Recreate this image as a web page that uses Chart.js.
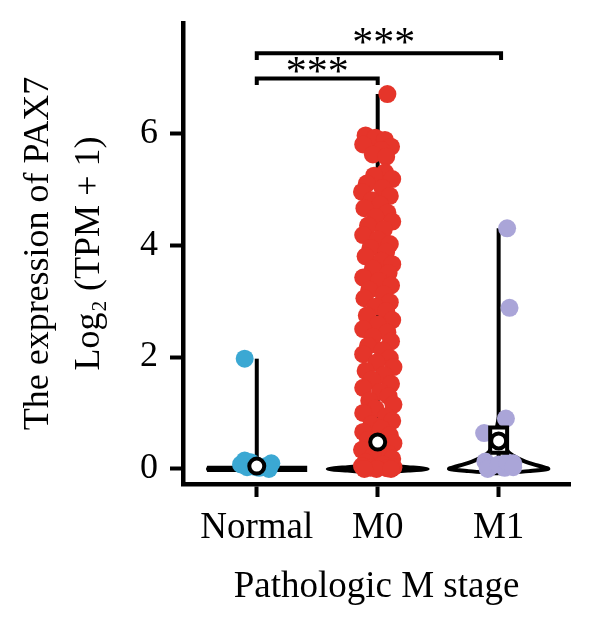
<!DOCTYPE html>
<html>
<head>
<meta charset="utf-8">
<script src="https://cdn.jsdelivr.net/npm/chart.js@4.4.1/dist/chart.umd.min.js"></script>
<style>
  html, body { margin: 0; padding: 0; background: #fff; }
  #wrap { width: 600px; height: 626px; position: relative; }
</style>
</head>
<body>
<div id="wrap"><canvas id="myChart"></canvas></div>
<script>
const categories = ["Normal", "M0", "M1"];
const yTicks = [0, 2, 4, 6];

// jittered points (value, horizontal jitter in category units)
const normalValues = [1.97, 0.15, 0.12, 0.08, 0.03, 0.02, 0.05, 0.10, 0.00, 0.04];
const normalJitter = [-0.10, -0.10, -0.05, -0.13, -0.08, 0.02, 0.08, 0.12, 0.10, -0.02];

const m0Values = [6.70, 5.96, 5.92, 5.88, 5.80, 5.76, 5.70, 5.62, 5.58,
  5.30, 5.24, 5.18, 5.10, 5.02, 4.95, 4.88, 4.80, 4.72, 4.66, 4.58, 4.50, 4.42, 4.35, 4.28,
  4.18, 4.10, 4.02, 3.95, 3.88, 3.80, 3.72, 3.66, 3.58, 3.50, 3.42, 3.36, 3.28, 3.20, 3.12,
  3.05, 2.98, 2.90, 2.82, 2.74, 2.66, 2.58, 2.50, 2.44, 2.36, 2.28, 2.20, 2.12, 2.05, 1.98,
  1.90, 1.82, 1.75, 1.68, 1.60, 1.52, 1.45, 1.38, 1.30, 1.22, 1.15, 1.08, 1.00, 0.94, 0.86,
  0.80, 0.72, 0.66, 0.60, 0.52, 0.46, 0.40, 0.34, 0.28, 0.22, 0.18, 0.12, 0.08, 0.05, 0.03,
  0.02, 0.01, 0.00, 0.00, 0.00];
const m0Jitter = [0.08, -0.10, -0.02, 0.06, -0.12, 0.11, 0.03, -0.04, 0.07,
  0.06, -0.03, 0.12, -0.09, 0.04, -0.13, 0.10, -0.05, 0.02, -0.11, 0.08, -0.02, 0.12, -0.08, 0.05,
  -0.12, 0.00, 0.10, -0.06, 0.07, -0.10, 0.03, 0.12, -0.04, 0.09, -0.12, 0.01, 0.11, -0.07, 0.05,
  -0.11, 0.10, -0.02, 0.07, -0.09, 0.12, 0.00, -0.12, 0.08, -0.04, 0.11, -0.08, 0.04, -0.12, 0.10,
  -0.01, 0.13, -0.10, 0.05, -0.05, 0.11, -0.12, 0.02, 0.09, -0.07, 0.13, -0.02, -0.12, 0.07, 0.12,
  -0.05, 0.03, -0.12, 0.10, -0.08, 0.13, 0.00, -0.13, 0.08, -0.04, 0.12, -0.10, 0.04, -0.13, 0.13,
  -0.06, 0.08, -0.01, 0.11, -0.11];

const m1Values = [4.30, 2.88, 0.90, 0.64, 0.13, 0.10, 0.05, 0.02, 0.00, 0.08, 0.12, 0.03];
const m1Jitter = [0.07, 0.09, 0.06, -0.12, -0.11, 0.12, -0.06, 0.05, -0.09, 0.00, 0.07, 0.12];

const medians = [0.05, 0.48, 0.50];
const maxima = [1.97, 6.70, 4.30];
const m1Box = [0.29, 0.74];

// violin outlines: levels and half widths
const normalViolinY = [-0.025, 0, 0.025];
const normalViolinW = [0.40, 0.405, 0.40];
const m0ViolinY = [-0.07, -0.035, 0, 0.035, 0.07];
const m0ViolinW = [0.03, 0.25, 0.415, 0.25, 0.03];
const m1ViolinY = [-0.08, -0.04, 0, 0.04, 0.08, 0.13, 0.2, 0.3, 0.5, 0.9];
const m1ViolinW = [0.0, 0.25, 0.41, 0.36, 0.29, 0.22, 0.15, 0.08, 0.04, 0.0];

// significance brackets
const bracketFrom = [0, 0];
const bracketTo = [1, 2.02];
const bracketLevel = [6.98, 7.43];
const starX = [0.5, 1.05];
const starY = [7.18, 7.70];
const starText = ["***", "***"];

const serif = "'Liberation Serif', 'DejaVu Serif', serif";
const colors = ["#3ba8d3", "#e5352a", "#aaa5d8"];

function pts(values, jitter, idx) {
  return values.map((v, i) => ({ x: idx + jitter[i], y: v }));
}
function violin(levels, widths, idx) {
  const right = levels.map((l, i) => ({ x: idx + widths[i], y: l }));
  const left = levels.slice().reverse().map((l, i) => ({ x: idx - widths[widths.length - 1 - i], y: l }));
  return right.concat(left, [right[0]]);
}

const starsPlugin = {
  id: "stars",
  afterDatasetsDraw(chart) {
    const c = chart.ctx;
    const xs = chart.scales.x, ys = chart.scales.y;
    const size = 42;
    c.save();
    c.fillStyle = "#000";
    c.font = size + "px " + serif;
    c.textAlign = "center";
    c.textBaseline = "alphabetic";
    starText.forEach((t, i) => {
      c.fillText(t, xs.getPixelForValue(starX[i]), ys.getPixelForValue(starY[i]) + size * 0.43);
    });
    c.restore();
  }
};

const datasets = [];
// medians (top)
datasets.push({
  data: medians.map((m, i) => ({ x: i, y: m })),
  pointRadius: 7.5, pointBackgroundColor: "#fff", pointBorderColor: "#000", pointBorderWidth: 4
});
// M1 box
datasets.push({
  data: [{ x: 1.93, y: m1Box[0] }, { x: 2.07, y: m1Box[0] }, { x: 2.07, y: m1Box[1] }, { x: 1.93, y: m1Box[1] }, { x: 1.93, y: m1Box[0] }],
  showLine: true, borderColor: "#000", borderWidth: 4, backgroundColor: "#fff", fill: "shape", pointRadius: 0
});
// points
[[normalValues, normalJitter], [m0Values, m0Jitter], [m1Values, m1Jitter]].forEach((g, i) => {
  datasets.push({
    data: pts(g[0], g[1], i),
    pointRadius: 9, pointBackgroundColor: colors[i], pointBorderWidth: 0, pointBorderColor: colors[i]
  });
});
// whiskers
maxima.forEach((m, i) => {
  datasets.push({
    data: [{ x: i, y: 0 }, { x: i, y: m }],
    showLine: true, borderColor: "#000", borderWidth: 4, pointRadius: 0
  });
});
// violins
datasets.push({ data: violin(normalViolinY, normalViolinW, 0), showLine: true, borderColor: "#000", borderWidth: 3.5, backgroundColor: "#000", fill: "shape", pointRadius: 0 });
datasets.push({ data: violin(m0ViolinY, m0ViolinW, 1), showLine: true, borderColor: "#000", borderWidth: 3.5, backgroundColor: "#000", fill: "shape", pointRadius: 0, tension: 0.3 });
datasets.push({ data: violin(m1ViolinY, m1ViolinW, 2), showLine: true, borderColor: "#000", borderWidth: 4, fill: false, pointRadius: 0, tension: 0.3 });
// brackets
bracketFrom.forEach((f, i) => {
  datasets.push({
    data: [{ x: f, y: bracketLevel[i] - 0.12 }, { x: f, y: bracketLevel[i] }, { x: bracketTo[i], y: bracketLevel[i] }, { x: bracketTo[i], y: bracketLevel[i] - 0.12 }],
    showLine: true, borderColor: "#000", borderWidth: 4, pointRadius: 0
  });
});

document.addEventListener("DOMContentLoaded", function () {
  const ctx = document.getElementById("myChart");
  new Chart(ctx, {
    type: "scatter",
    data: { datasets: datasets },
    plugins: [starsPlugin],
    options: {
      responsive: true,
      maintainAspectRatio: false,
      animation: false,
      layout: { padding: { top: 23, right: 30, left: 0, bottom: 0 } },
      plugins: {
        legend: { display: false },
        tooltip: { enabled: false }
      },
      scales: {
        x: {
          type: "linear",
          min: -0.61,
          max: 2.59,
          afterFit: (s) => { s.height = 142; s.paddingLeft = 0; s.paddingRight = 0; },
          afterBuildTicks: (s) => { s.ticks = categories.map((c, i) => ({ value: i })); },
          grid: { drawOnChartArea: false, drawTicks: true, tickLength: 13, tickWidth: 4, tickColor: "#000" },
          border: { display: true, width: 4.5, color: "#000" },
          ticks: {
            color: "#000",
            padding: 9,
            font: { family: serif, size: 37 },
            callback: (v) => categories[v]
          },
          title: {
            display: true,
            text: "Pathologic M stage",
            color: "#000",
            font: { family: serif, size: 37, lineHeight: 1.2 },
            padding: { top: 0, bottom: 17 }
          }
        },
        y: {
          min: -0.27,
          max: 7.97,
          afterFit: (s) => { s.width = 183; s.paddingTop = 0; s.paddingBottom = 0; },
          afterBuildTicks: (s) => { s.ticks = yTicks.map((v) => ({ value: v })); },
          grid: { drawOnChartArea: false, drawTicks: true, tickLength: 13, tickWidth: 4, tickColor: "#000" },
          border: { display: true, width: 4.5, color: "#000" },
          ticks: {
            color: "#000",
            padding: 12,
            font: { family: serif, size: 36 }
          },
          title: {
            display: true,
            text: ["The expression of PAX7", "Log\u2082 (TPM + 1)"],
            color: "#000",
            font: { family: serif, size: 36, lineHeight: 1.39 },
            padding: { top: 14, bottom: 0 }
          }
        }
      }
    }
  });
});
</script>
</body>
</html>
